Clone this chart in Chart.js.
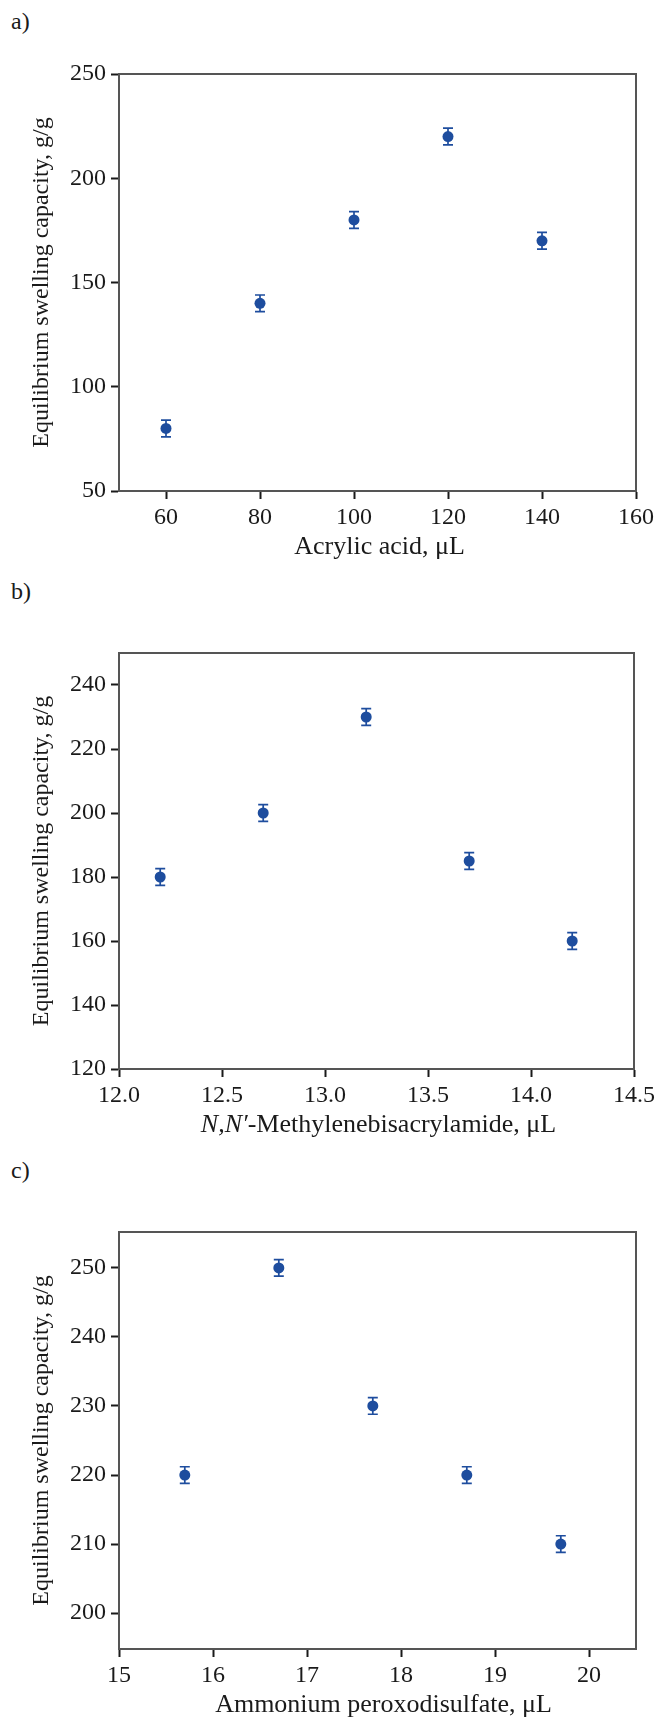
<!DOCTYPE html>
<html>
<head>
<meta charset="utf-8">
<script src="https://cdn.jsdelivr.net/npm/chart.js@4.4.1/dist/chart.umd.min.js"></script>
<style>
  body { margin: 0; background: #fff; width: 659px; height: 1717px; position: relative; overflow: hidden; }
  .panel { position: absolute; left: 0; width: 659px; }
  .tag { position: absolute; left: 11px; font: 24px "Liberation Serif", serif; line-height: 1; color: #1a1a1a; }
</style>
</head>
<body>
<div class="tag" style="top:9px">a)</div>
<div class="tag" style="top:579px">b)</div>
<div class="tag" style="top:1158px">c)</div>
<div class="panel" style="top:0px"><canvas id="chartA" width="659" height="580"></canvas></div>
<div class="panel" style="top:580px"><canvas id="chartB" width="659" height="570"></canvas></div>
<div class="panel" style="top:1150px"><canvas id="chartC" width="659" height="567"></canvas></div>
<script>
// a) acrylic acid
const acrylicAcid = [60, 80, 100, 120, 140];
const swellingA = [80, 140, 180, 220, 170];
const errA = [4, 4, 4, 4, 4];
const xTicksA = [60, 80, 100, 120, 140, 160];
const yTicksA = [50, 100, 150, 200, 250];

// b) N,N'-methylenebisacrylamide
const mba = [12.2, 12.7, 13.2, 13.7, 14.2];
const swellingB = [180, 200, 230, 185, 160];
const errB = [2.6, 2.6, 2.6, 2.6, 2.6];
const xTicksB = [12.0, 12.5, 13.0, 13.5, 14.0, 14.5];
const yTicksB = [120, 140, 160, 180, 200, 220, 240];

// c) ammonium peroxodisulfate
const aps = [15.7, 16.7, 17.7, 18.7, 19.7];
const swellingC = [220, 250, 230, 220, 210];
const errC = [1.2, 1.2, 1.2, 1.2, 1.2];
const xTicksC = [15, 16, 17, 18, 19, 20];
const yTicksC = [200, 210, 220, 230, 240, 250];

const yTitle = 'Equilibrium swelling capacity, g/g';
const blue = '#1e4d9e';
const ink = '#1a1a1a';
const serif = '"Liberation Serif", serif';

// error bars drawn under the dots
const errorBars = {
  id: 'errorBars',
  beforeDatasetsDraw(chart, args, opts) {
    const { ctx, scales: { x, y } } = chart;
    const pts = chart.data.datasets[0].data;
    ctx.save();
    ctx.strokeStyle = blue;
    ctx.lineWidth = 1.7;
    pts.forEach((p, i) => {
      const px = x.getPixelForValue(p.x);
      const y1 = y.getPixelForValue(p.y + opts.err[i]);
      const y2 = y.getPixelForValue(p.y - opts.err[i]);
      ctx.beginPath();
      ctx.moveTo(px, y1); ctx.lineTo(px, y2);
      ctx.moveTo(px - 5, y1); ctx.lineTo(px + 5, y1);
      ctx.moveTo(px - 5, y2); ctx.lineTo(px + 5, y2);
      ctx.stroke();
    });
    ctx.restore();
  }
};

// top and right sides of the box
const frame = {
  id: 'frame',
  afterDraw(chart) {
    const { ctx, chartArea: a } = chart;
    ctx.save();
    ctx.strokeStyle = '#555';
    ctx.lineWidth = 2;
    ctx.beginPath();
    ctx.moveTo(a.left, a.top); ctx.lineTo(a.right, a.top); ctx.lineTo(a.right, a.bottom);
    ctx.stroke();
    ctx.restore();
  }
};

// x title with mixed italic parts
const xTitle = {
  id: 'xTitle',
  afterDraw(chart, args, opts) {
    const { ctx, chartArea: a } = chart;
    const yPos = chart.scales.x.bottom - opts.offset;
    ctx.save();
    ctx.fillStyle = ink;
    ctx.textBaseline = 'middle';
    const fonts = opts.parts.map(p => (p.italic ? 'italic ' : '') + '26px ' + serif);
    let total = 0;
    opts.parts.forEach((p, i) => { ctx.font = fonts[i]; total += ctx.measureText(p.text).width; });
    let cx = (a.left + a.right) / 2 - total / 2 + opts.shift;
    opts.parts.forEach((p, i) => {
      ctx.font = fonts[i];
      ctx.textAlign = 'left';
      ctx.fillText(p.text, cx, yPos);
      cx += ctx.measureText(p.text).width;
    });
    ctx.restore();
  }
};

function makeChart(id, xs, ys, err, xTicks, yTicks, xr, yr, padTop, padBottom, parts, shift, fmt) {
  const axisGrid = { drawOnChartArea: false, drawTicks: true, tickLength: 8, tickWidth: 2, tickColor: ink };
  const tickFont = { family: serif, size: 24 };
  return new Chart(document.getElementById(id), {
    type: 'scatter',
    data: {
      datasets: [{
        data: xs.map((v, i) => ({ x: v, y: ys[i] })),
        pointRadius: 5.5,
        pointHoverRadius: 5.5,
        pointBackgroundColor: blue,
        pointBorderWidth: 0
      }]
    },
    options: {
      responsive: false,
      animation: false,
      events: [],
      layout: { padding: { top: padTop, bottom: padBottom, left: 0, right: 23 } },
      plugins: {
        legend: { display: false },
        tooltip: { enabled: false },
        errorBars: { err: err },
        xTitle: { parts: parts, offset: 14, shift: shift }
      },
      scales: {
        x: {
          type: 'linear',
          min: xr[0], max: xr[1],
          grid: axisGrid,
          border: { display: true, color: '#555', width: 2 },
          ticks: { font: tickFont, color: ink, padding: 4, autoSkip: false, maxRotation: 0,
                   callback: v => fmt(v) },
          afterBuildTicks: s => { s.ticks = xTicks.map(v => ({ value: v })); },
          afterFit: s => { s.height = 70; }
        },
        y: {
          min: yr[0], max: yr[1],
          grid: axisGrid,
          border: { display: true, color: '#555', width: 2 },
          ticks: { font: tickFont, color: ink, padding: 5, autoSkip: false },
          afterBuildTicks: s => { s.ticks = yTicks.map(v => ({ value: v })); },
          afterFit: s => { s.width = 119; },
          title: { display: true, text: yTitle, color: ink,
                   font: { family: serif, size: 24, lineHeight: 1 },
                   padding: { top: 30, bottom: 0 } }
        }
      }
    },
    plugins: [errorBars, frame, xTitle]
  });
}

makeChart('chartA', acrylicAcid, swellingA, errA, xTicksA, yTicksA, [50, 160], [50, 250], 74, 19,
  [{ text: 'Acrylic acid, \u03bcL' }], 2, v => String(v));
makeChart('chartB', mba, swellingB, errB, xTicksB, yTicksB, [12, 14.5], [120, 250], 73, 11,
  [{ text: 'N,N\u2032', italic: true }, { text: '-Methylenebisacrylamide, \u03bcL' }], 2, v => v.toFixed(1));
makeChart('chartC', aps, swellingC, errC, xTicksC, yTicksC, [15, 20.5], [194.8, 255.2], 82, -2,
  [{ text: 'Ammonium peroxodisulfate, \u03bcL' }], 6, v => String(v));
</script>
</body>
</html>
